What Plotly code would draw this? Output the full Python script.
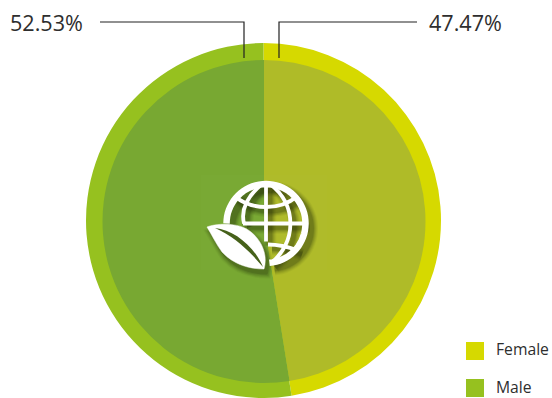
import math
import plotly.graph_objects as go

# Gender split shown on the ring and the inner disc
categories = ["Female", "Male"]
shares = [47.47, 52.53]
ring_colors = ["#d6d900", "#96c11f"]
disc_colors = ["#afbb28", "#78a832"]
share_labels = ["47.47%", "52.53%"]

W, H = 552, 398
TEXT = "#2e2e2e"
LINE = "#222222"
SHADOW = "#1f2a08"


def pie(domain_x, domain_y, colors):
    return go.Pie(
        labels=categories, values=shares, sort=False, direction="clockwise",
        rotation=0, textinfo="none", hoverinfo="label+percent",
        marker=dict(colors=colors, line=dict(width=0)), showlegend=False,
        domain=dict(x=[domain_x[0] / W, domain_x[1] / W],
                    y=[1 - domain_y[1] / H, 1 - domain_y[0] / H]),
    )


fig = go.Figure()
fig.add_trace(pie((86, 441), (43, 398), ring_colors))
fig.add_trace(pie((102.5, 425.5), (60, 383), disc_colors))

shapes = []


def add_path(d, fill=None, line=None, width=0, opacity=1):
    shapes.append(dict(type="path", path=d, xref="x", yref="y",
                       fillcolor=fill or "rgba(0,0,0,0)", opacity=opacity,
                       line=dict(color=line or "rgba(0,0,0,0)", width=width)))


GX, GY, GR = 266, 223.5, 39.5


def ring_path(dx=0, dy=0):
    # Open arc: the lower-left quarter of the globe sits behind the leaf
    pts = []
    for deg in range(180, 446, 5):
        a = math.radians(deg)
        pts.append((GX + dx + GR * math.cos(a), GY + dy + GR * math.sin(a)))
    return "M" + " L".join(f"{x:.1f},{y:.1f}" for x, y in pts)


def grid_paths(dx=0, dy=0):
    x, y = GX + dx, GY + dy
    return [
        f"M{x},{y-GR} L{x},{y+18}",
        f"M{x-23},{y} L{x+GR},{y}",
        f"M{x-4},{y-GR} C{x-20},{y-26} {x-25},{y-12} {x-22},{y}",
        f"M{x+4},{y-GR} C{x+32},{y-18} {x+30},{y+20} {x+5},{y+GR}",
        f"M{x-31},{y-27} C{x-14},{y-13} {x+14},{y-13} {x+31},{y-27}",
        f"M{x+2},{y+21} C{x+14},{y+21} {x+24},{y+24} {x+32},{y+27}",
    ]


def leaf_path(dx=0, dy=0):
    p = [(207, 227), (214, 224), (238, 221), (251, 232), (262, 241), (268, 255), (264, 269),
         (250, 269), (234, 265), (222, 252), (216, 244), (212, 235), (207, 227)]
    p = [(a + dx, b + dy) for a, b in p]
    s = f"M{p[0][0]},{p[0][1]}"
    for i in range(1, len(p), 3):
        s += " C" + " ".join(f"{a},{b}" for a, b in p[i:i + 3])
    return s + " Z"


VEIN = "M215,228 C234,230 254,246 263,267 C252,254 236,237 215,228 Z"

# Faint lighter patch behind the emblem
shapes.append(dict(type="rect", xref="x", yref="y", x0=201, x1=327, y0=175, y1=270,
                   fillcolor="rgba(255,255,255,0.012)", line=dict(width=0)))

# Soft drop shadow built from stacked translucent copies
for grow, alpha in ((9, 0.05), (7, 0.07), (5, 0.09), (3, 0.12), (1, 0.16)):
    add_path(ring_path(5, 5), line=SHADOW, width=6 + grow, opacity=alpha)
    for g in grid_paths(4, 4):
        add_path(g, line=SHADOW, width=3.5 + grow, opacity=alpha)
    add_path(leaf_path(3, 5), fill=SHADOW, line=SHADOW, width=grow, opacity=alpha)

# Globe
add_path(ring_path(), line="white", width=6.5)
for g in grid_paths():
    add_path(g, line="white", width=3.8)

# Leaf with its vein
add_path(leaf_path(), fill="white", line="white", width=0.5)
add_path(VEIN, fill="#46611a")

# Leader lines from the ring to the value labels
for d in ("M244,58 L244,22 L100,22", "M279,58 L279,22 L417,22"):
    add_path(d, line=LINE, width=1.2)

# Legend swatches
for y0, c in zip((342, 379), ring_colors):
    shapes.append(dict(type="rect", xref="x", yref="y", x0=466, x1=484, y0=y0, y1=y0 + 18,
                       fillcolor=c, line=dict(width=0)))

FONT = "Open Sans"
annotations = [
    dict(x=427.5, y=22, text=share_labels[0], xanchor="left", font=dict(size=21.6, color=TEXT, family=FONT)),
    dict(x=8.5, y=22, text=share_labels[1], xanchor="left", font=dict(size=21.6, color=TEXT, family=FONT)),
    dict(x=494.5, y=349, text=categories[0], xanchor="left", font=dict(size=15.7, color=TEXT, family=FONT)),
    dict(x=494.5, y=387, text=categories[1], xanchor="left", font=dict(size=15.7, color=TEXT, family=FONT)),
]
for a in annotations:
    a.update(xref="x", yref="y", showarrow=False, yanchor="middle", borderpad=0)

fig.update_layout(
    width=W, height=H, margin=dict(l=0, r=0, t=0, b=0),
    paper_bgcolor="white", plot_bgcolor="rgba(0,0,0,0)",
    xaxis=dict(range=[0, W], visible=False, fixedrange=True),
    yaxis=dict(range=[H, 0], visible=False, fixedrange=True),
    shapes=shapes, annotations=annotations, showlegend=False,
)
fig.write_html("out.html", config=dict(displayModeBar=False))
